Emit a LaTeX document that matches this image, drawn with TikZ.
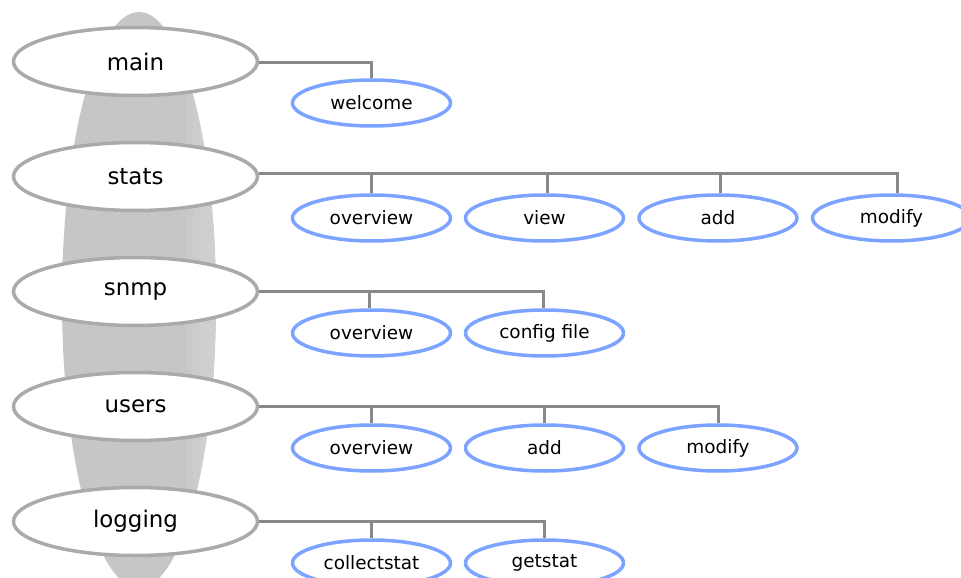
\documentclass[tikz,border=0pt]{standalone}
\usepackage{fontspec}
\setmainfont{DejaVu Sans}
\usetikzlibrary{shapes.geometric}
\definecolor{pillar}{HTML}{C6C6C6}
\definecolor{topline}{HTML}{AAAAAA}
\definecolor{subline}{HTML}{7BA3FF}
\definecolor{wire}{HTML}{888888}
\tikzset{
  section/.style={ellipse, draw=topline, line width=3.5bp, fill=white,
    minimum width=244bp, minimum height=68bp, inner sep=0pt,
    font=\fontsize{23}{23}\selectfont},
  page/.style={ellipse, draw=subline, line width=3.5bp, fill=white,
    minimum width=158bp, minimum height=46bp, inner sep=0pt,
    font=\fontsize{18.5}{18.5}\selectfont},
  link/.style={draw=wire, line width=3bp}
}
\begin{document}
\begin{tikzpicture}[x=1bp, y=-1bp]
\useasboundingbox (0,0) rectangle (961,578);
% background column
\begin{scope}
  \clip (139,300) ellipse [x radius=77, y radius=288];
  \fill[pillar] (62,12) rectangle (216,578);
  \fill[pillar!95!white] (186,0) rectangle (193,578);
  \fill[pillar!90!white] (193,0) rectangle (200,578);
  \fill[pillar!85!white] (200,0) rectangle (216,578);
\end{scope}

% sections
\node[section] (main) at (135.5,61.5) {main};
\node[section] (stats) at (135.5,176.5) {stats};
\node[section] (snmp) at (135.5,291.5) {snmp};
\node[section] (users) at (135.5,406.5) {users};
\node[section] (logging) at (135.5,521.5) {logging};

% pages
\node[page] (welcome) at (371.5,103) {welcome};

\node[page] (stov) at (371.5,218) {overview};
\node[page] (stview) at (544.5,218) {view};
\node[page] (stadd) at (718,218) {add};
\node[page] (stmod) at (891.5,218) {modify};

\node[page] (snov) at (371.5,333) {overview};
\node[page] (sncfg) at (544.5,333) {config file};

\node[page] (usov) at (371.5,448) {overview};
\node[page] (usadd) at (544.5,448) {add};
\node[page] (usmod) at (718,448) {modify};

\node[page] (logcol) at (371.5,563) {collectstat};
\node[page] (logget) at (544.5,563) {getstat};

% connectors
\path[link] ([yshift=-1.5bp]main.east) -| (welcome.north);

\path[link] ([yshift=3bp]stats.east) -| (stov.north);
\path[link] ([yshift=3bp]stats.east) -| ([xshift=3bp]stview.north);
\path[link] ([yshift=3bp]stats.east) -| ([xshift=2bp]stadd.north);
\path[link] ([yshift=3bp]stats.east) -| ([xshift=6bp]stmod.north);

\path[link] (snmp.east) -| ([xshift=-2.5bp]snov.north);
\path[link] (snmp.east) -| ([xshift=-1.5bp]sncfg.north);

\path[link] (users.east) -| (usov.north);
\path[link] (users.east) -| (usadd.north);
\path[link] (users.east) -| (usmod.north);

\path[link] (logging.east) -| (logcol.north);
\path[link] (logging.east) -| (logget.north);
\end{tikzpicture}
\end{document}
